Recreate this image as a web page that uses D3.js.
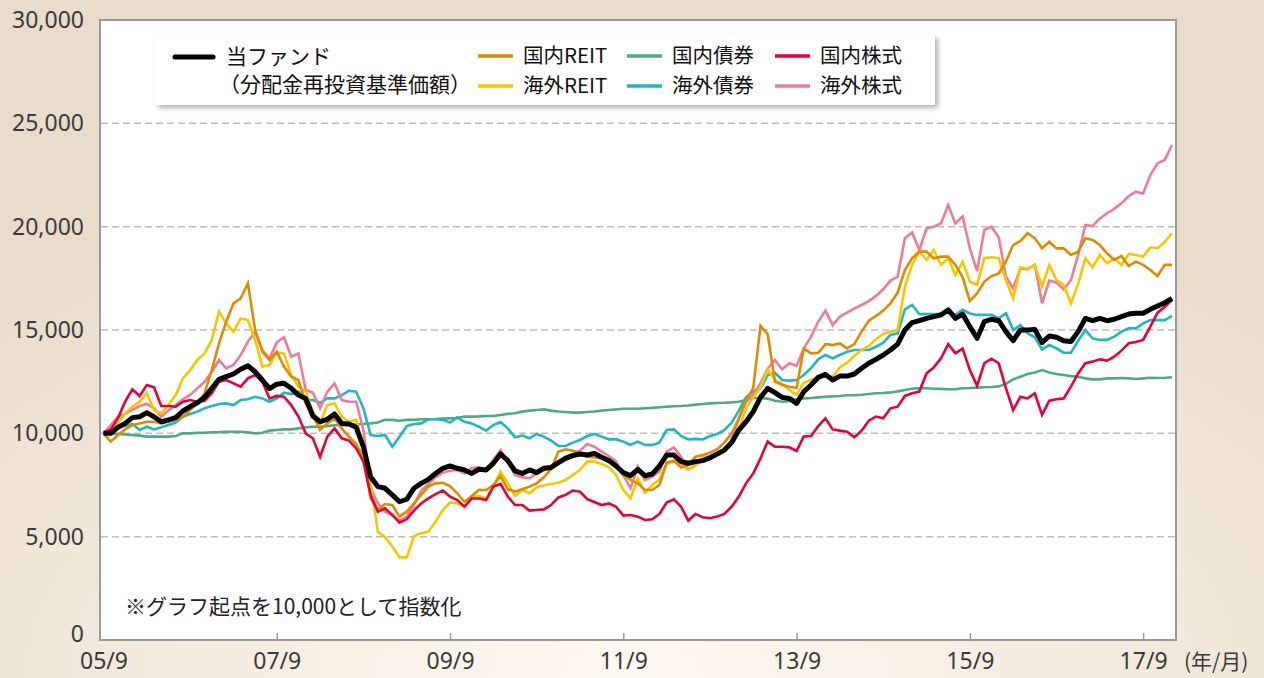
<!DOCTYPE html>
<html>
<head>
<meta charset="utf-8">
<script src="https://cdn.jsdelivr.net/npm/d3@7/dist/d3.min.js"></script>
<style>
  html, body { margin: 0; padding: 0; }
  body { width: 1264px; height: 678px; overflow: hidden; }
  text { font-family: "Noto Sans CJK JP", "Noto Sans", sans-serif; }
</style>
</head>
<body>
<div id="chart"></div>
<script>
// monthly index values, 2005/9 .. 2018/1
var fund = [10000,10000,10290,10480,10760,10800,11000,10800,10560,10650,
  10760,11080,11290,11480,11740,12180,12610,12740,12870,13100,
  13270,12980,12580,12160,12380,12420,12180,11850,11690,10840,
  10560,10680,10940,10480,10450,10290,9350,7900,7420,7340,
  7020,6690,6810,7340,7580,7770,8060,8310,8420,8310,
  8230,8060,8260,8230,8550,9000,8680,8180,8060,8230,
  8100,8310,8350,8580,8790,8920,9000,8950,9030,8840,
  8680,8420,8100,7950,8250,7950,8030,8420,8950,8950,
  8630,8550,8630,8680,8820,9000,9190,9550,10160,10560,
  11050,11740,12180,11970,11740,11690,11450,12020,12340,12710,
  12850,12580,12770,12770,12870,13150,13390,13580,13790,14030,
  14320,15000,15360,15450,15560,15650,15730,15970,15560,15770,
  15160,14600,15400,15520,15450,14920,14480,15000,15000,15030,
  14390,14710,14650,14480,14440,14920,15560,15450,15560,15450,
  15520,15650,15770,15810,15810,16000,16160,16320,16530];

var jReit = [10000,9600,9920,10190,10400,10480,10560,10560,10480,10560,
  10650,10800,11130,11450,11940,13060,14350,15400,16290,16530,
  17260,15000,13950,13550,13950,13230,12740,12580,11450,10890,
  10160,10480,10730,10240,9840,9480,8870,6850,6320,6580,
  6530,5970,6210,6610,7020,7420,7580,7610,7450,7100,
  6690,6970,7260,7260,7500,7940,7290,7180,7290,7420,
  7580,7870,8270,9110,9230,9160,9060,8870,8840,8790,
  8630,8420,8000,7750,7580,7260,7260,7500,8580,8680,
  8350,8470,8870,8950,9060,9230,9550,10000,10700,11600,
  12200,15200,14800,12500,12350,12250,12200,14110,13870,13900,
  14320,14270,14350,14110,14320,14920,15450,15680,15940,16290,
  16810,17900,18470,18790,18790,18470,18550,18550,18150,17550,
  16400,16770,17340,17610,17740,18310,19110,19310,19680,19440,
  18950,19270,18950,18950,18630,18790,19440,19360,19110,18710,
  18390,18580,18100,18310,18150,17900,17610,18150,18150];

var gReit = [10000,10080,10480,10970,11290,11530,11940,11130,10970,11370,
  11850,12660,13060,13550,13870,14520,15890,15320,14920,15560,
  15480,14520,13230,13310,13900,13870,12820,12260,12020,11050,
  10480,11370,11450,10810,10560,10650,9350,7580,5240,4970,
  4520,4000,4000,5030,5160,5240,5730,6290,6650,6610,
  6450,6940,6970,6850,7420,8150,7580,6970,7260,7100,
  7390,7480,7550,7610,7740,7980,8230,8630,8630,8520,
  8350,7980,7260,6850,7820,7130,7500,7770,8520,8630,
  8470,8260,8420,8900,8870,9030,9190,9520,10160,11210,
  11740,12230,13100,12580,12390,12100,11860,12450,12580,12710,
  12770,12740,13190,13420,13740,14030,14230,14550,14810,14920,
  15000,17100,18150,18790,18390,18870,18150,18470,17660,18300,
  17340,17180,18470,18520,18470,17420,16530,18030,17980,18150,
  17100,18150,17420,17180,16290,17230,18470,18030,18630,18230,
  18470,18150,18680,18630,18550,19000,18950,19270,19680];

var jBond = [10000,9980,9970,9950,9920,9890,9840,9840,9840,9840,
  9870,10000,10000,10020,10030,10050,10060,10080,10080,10080,
  10050,10000,10030,10130,10160,10190,10190,10240,10290,10320,
  10320,10350,10390,10400,10420,10440,10450,10480,10520,10650,
  10650,10610,10650,10650,10680,10680,10690,10710,10730,10740,
  10810,10810,10820,10840,10840,10890,10940,10970,11050,11100,
  11130,11160,11100,11060,11030,11000,11000,11030,11060,11100,
  11130,11160,11190,11190,11190,11210,11230,11260,11290,11310,
  11320,11350,11390,11420,11450,11470,11480,11500,11530,11610,
  11710,11710,11680,11580,11530,11550,11650,11690,11710,11740,
  11770,11790,11810,11840,11850,11870,11900,11940,11950,11980,
  12030,12100,12160,12180,12180,12160,12150,12130,12130,12180,
  12190,12210,12230,12240,12270,12390,12610,12740,12870,12940,
  13060,12940,12870,12820,12770,12740,12660,12610,12610,12660,
  12660,12680,12660,12630,12660,12690,12680,12690,12710];

var gBond = [10000,10080,10290,10350,10450,10160,10320,10190,10290,10400,
  10520,10810,10940,11050,11210,11320,11420,11450,11370,11610,
  11650,11770,11690,11530,11690,11970,11900,12020,11610,11610,
  11480,11690,11690,11850,12060,12020,11210,9920,9870,9920,
  9350,9840,10350,10450,10480,10680,10680,10650,10520,10770,
  10560,10480,10320,10130,10400,10550,10240,9810,9890,9760,
  9970,9840,9650,9390,9390,9550,9680,9870,9970,9840,
  9710,9710,9600,9440,9600,9440,9440,9550,10160,10190,
  9870,9710,9730,9710,9870,9970,10160,10520,11100,11740,
  12020,12180,12820,12930,12580,12550,12580,12820,13150,13580,
  13790,13630,13790,13950,14030,14030,14030,14190,14390,14760,
  14840,16000,16210,15770,15770,15770,15770,15940,15730,15980,
  15800,15730,15730,15730,15560,15810,15000,15240,14840,14650,
  14060,14270,14110,13900,13900,14480,15000,14600,14520,14520,
  14680,14920,15080,15080,15320,15480,15480,15480,15680];

var jStock = [10000,10190,10730,11530,12130,11810,12340,12230,11320,11320,
  11290,11530,11610,11530,11580,11940,12500,12580,12420,12260,
  12660,12820,12500,11690,11810,11770,11370,10810,10000,9760,
  8870,9840,10240,9760,9650,9270,8630,7020,6210,6370,
  6050,5680,5840,6260,6610,6850,7060,7230,6940,6770,
  6450,6850,6850,6770,7420,7550,6940,6530,6530,6260,
  6290,6320,6530,6900,7020,7230,7180,6810,6680,6530,
  6610,6450,6020,6050,5970,5810,5840,6100,6650,6810,
  6450,5780,6100,5940,5890,5970,6100,6450,6940,7580,
  8060,8790,9600,9350,9350,9320,9150,9850,9870,10350,
  10730,10190,10130,10080,9810,10130,10610,10810,10730,11210,
  11290,11810,11940,12020,12900,13190,13630,14320,13870,14100,
  13060,12300,13390,13610,13390,12180,11130,11770,11690,11940,
  10890,11580,11650,11690,12260,12900,13390,13470,13580,13520,
  13710,14000,14360,14420,14520,15160,15840,16130,16450];

var gStock = [10000,10400,10810,10940,11130,11320,11420,11210,10810,11100,
  11370,11650,11860,12180,12500,12980,13550,13150,13310,13790,
  14440,14920,14030,13630,14400,14650,13710,13870,12100,11970,
  11210,12020,12420,11610,11530,11530,10160,7340,6610,6210,
  6050,5760,5970,6530,7230,7550,7870,8100,8190,8230,
  8060,8310,8350,8190,8710,9190,8630,7980,7870,7820,
  8060,8230,8310,8630,8870,9000,9160,9480,9350,9110,
  8900,8630,7980,7340,8390,7740,7900,8150,9110,9320,
  8870,8260,8470,8680,8740,9000,9230,9680,10730,11530,
  11850,12420,13140,13550,13100,13390,13260,14110,14680,15400,
  15940,15240,15650,15840,16050,16210,16400,16650,16970,17390,
  17580,19440,19710,18870,19920,20000,20160,21050,20160,20500,
  18950,17850,19840,20000,19480,17580,17020,17980,17940,18150,
  16290,17390,17290,16970,17420,18630,20080,20030,20400,20650,
  20860,21130,21480,21690,21610,22500,23070,23230,23950];

var tickMonths = [0, 24, 48, 72, 96, 120, 144];
var tickLabels = ['05/9', '07/9', '09/9', '11/9', '13/9', '15/9', '17/9'];
var yTicks = [0, 5000, 10000, 15000, 20000, 25000, 30000];

var seriesNames = ['国内REIT', '国内債券', '国内株式', '海外REIT', '海外債券', '海外株式'];
var seriesColors = ['#e08a00', '#4faa82', '#e6003c', '#f3c800', '#20b7bf', '#ee7b98'];
var seriesData = [jReit, jBond, jStock, gReit, gBond, gStock];

var W = 1264, H = 678;
var svg = d3.select('#chart').append('svg')
    .attr('width', W)
    .attr('height', H);

var defs = svg.append('defs');
var bg = defs.append('radialGradient')
    .attr('id', 'bg')
    .attr('cx', '50%').attr('cy', '100%').attr('r', '75%')
    .attr('fx', '50%').attr('fy', '100%');
bg.append('stop').attr('offset', '0%').attr('stop-color', '#fef9f1');
bg.append('stop').attr('offset', '100%').attr('stop-color', '#e9dccb');

var shadow = defs.append('filter').attr('id', 'shadow')
    .attr('x', '-5%').attr('y', '-20%').attr('width', '110%').attr('height', '150%');
shadow.append('feDropShadow')
    .attr('dx', 3).attr('dy', 3).attr('stdDeviation', 2.5)
    .attr('flood-color', '#000').attr('flood-opacity', 0.3);

svg.append('rect').attr('width', W).attr('height', H).attr('fill', 'url(#bg)');

var x = d3.scaleLinear().domain([0, 148]).range([103.5, 1172]);
var y = d3.scaleLinear().domain([0, 30000]).range([640, 20]);

var left = 100, right = 1176;

// plot area
svg.append('rect')
    .attr('x', left).attr('y', y(30000))
    .attr('width', right - left).attr('height', y(0) - y(30000))
    .attr('fill', '#fff')
    .attr('stroke', '#9b9b9b')
    .attr('stroke-width', 2);

// grid
svg.append('g').selectAll('line')
    .data(yTicks.filter(function (d) { return d > 0 && d < 30000; }))
    .enter().append('line')
    .attr('x1', left + 1).attr('x2', right - 1)
    .attr('y1', function (d) { return y(d); })
    .attr('y2', function (d) { return y(d); })
    .attr('stroke', '#bdbdbd')
    .attr('stroke-width', 1.5)
    .attr('stroke-dasharray', '7,4');

// y axis
var yAxis = svg.append('g')
    .attr('transform', 'translate(' + left + ',0)')
    .call(d3.axisLeft(y).tickValues(yTicks).tickSize(0).tickPadding(16).tickFormat(d3.format(',')));
yAxis.select('.domain').remove();
yAxis.selectAll('text')
    .style('font-family', '"Noto Sans", sans-serif')
    .style('font-size', '23px')
    .attr('fill', '#3a3a3a');
// the zero label sits a little higher, clear of the month labels
yAxis.selectAll('.tick').filter(function (d) { return d === 0; })
    .select('text').attr('dy', '0.05em');

// x axis labels
var xAxis = svg.append('g')
    .attr('transform', 'translate(0,' + y(0) + ')')
    .call(d3.axisBottom(x).tickValues(tickMonths).tickSize(0).tickPadding(13)
        .tickFormat(function (d, i) { return tickLabels[i]; }));
xAxis.select('.domain').remove();
xAxis.selectAll('text')
    .style('font-family', '"Noto Sans", sans-serif')
    .style('font-size', '23px')
    .attr('fill', '#3a3a3a');

// small inner ticks
var xTicks = svg.append('g')
    .attr('transform', 'translate(0,' + (y(0) - 1) + ')')
    .call(d3.axisTop(x).tickValues(tickMonths.slice(1)).tickSize(6).tickFormat(''));
xTicks.select('.domain').remove();
xTicks.selectAll('line').attr('stroke', '#9b9b9b').attr('stroke-width', 1.5);

svg.append('text')
    .attr('x', 1184).attr('y', 669)
    .style('font-size', '21px')
    .attr('fill', '#3a3a3a')
    .text('(年/月)');

// lines
var line = d3.line()
    .x(function (d, i) { return x(i); })
    .y(function (d) { return y(d); });

var drawOrder = [1, 4, 5, 3, 0, 2];
drawOrder.forEach(function (k) {
    svg.append('path')
        .datum(seriesData[k])
        .attr('fill', 'none')
        .attr('stroke', seriesColors[k])
        .attr('stroke-width', 2.6)
        .attr('stroke-linejoin', 'miter')
        .attr('d', line);
});

svg.append('path')
    .datum(fund)
    .attr('fill', 'none')
    .attr('stroke', '#000')
    .attr('stroke-width', 5)
    .attr('stroke-linejoin', 'round')
    .attr('d', line);

// note
svg.append('text')
    .attr('x', 125).attr('y', 614)
    .style('font-size', '21px')
    .attr('fill', '#222')
    .text('※グラフ起点を10,000として指数化');

// legend
var legend = svg.append('g');
legend.append('rect')
    .attr('x', 155).attr('y', 35)
    .attr('width', 780).attr('height', 70)
    .attr('fill', '#fff')
    .attr('filter', 'url(#shadow)');

legend.append('line')
    .attr('x1', 175).attr('x2', 213).attr('y1', 57).attr('y2', 57)
    .attr('stroke', '#000').attr('stroke-width', 5).attr('stroke-linecap', 'round');
legend.append('text')
    .attr('x', 226).attr('y', 64)
    .style('font-size', '21px').attr('fill', '#111')
    .text('当ファンド');
legend.append('text')
    .attr('x', 219).attr('y', 92)
    .style('font-size', '21px').attr('fill', '#111')
    .text('（分配金再投資基準価額）');

var colX = [478, 627, 775];
var rowY = [56, 86];
var item = legend.selectAll('.item')
    .data(seriesNames)
    .enter().append('g')
    .attr('class', 'item')
    .attr('transform', function (d, i) {
        return 'translate(' + colX[i % 3] + ',' + rowY[Math.floor(i / 3)] + ')';
    });
item.append('line')
    .attr('x1', 0).attr('x2', 35)
    .attr('stroke', function (d, i) { return seriesColors[i]; })
    .attr('stroke-width', 3.5);
item.append('text')
    .attr('x', 45).attr('y', 7)
    .style('font-size', '20.5px').attr('fill', '#111')
    .text(function (d) { return d; });
</script>
</body>
</html>
